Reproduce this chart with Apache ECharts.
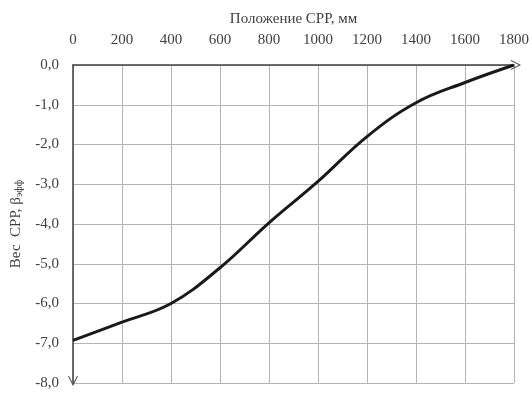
<!DOCTYPE html>
<html>
<head>
<meta charset="utf-8">
<script src="https://cdn.jsdelivr.net/npm/echarts@6/dist/echarts.min.js"></script>
<style>
  html, body { margin: 0; padding: 0; background: #fff; }
  #chart { width: 532px; height: 394px; }
</style>
</head>
<body>
<div id="chart"></div>
<script>
// Положение СРР, мм
const positions = [0, 200, 400, 600, 800, 1000, 1200, 1400, 1600, 1800]
// Вес СРР, β эфф
const weights = [-6.93, -6.47, -6.0, -5.1, -3.97, -2.93, -1.8, -0.95, -0.44, 0]

const chart = echarts.init(document.getElementById('chart'))

// открытая стрелка (галочка), остриё вверх
const openArrow = 'path://M0,10 L5,0 L10,10 L9,10 L5,2 L1,10 Z'
const font = 'Liberation Serif'

const option = {
  animation: false,
  grid: {
    left: 73,
    right: 17,
    top: 65,
    bottom: 11
  },
  xAxis: {
    type: 'value',
    position: 'top',
    min: 0,
    max: 1800,
    interval: 200,
    name: 'Положение СРР, мм',
    nameLocation: 'middle',
    nameGap: 38,
    nameTextStyle: { fontFamily: font, fontSize: 15, color: '#404040' },
    axisLine: {
      onZero: false,
      lineStyle: { color: '#404040', width: 1.5 },
      symbol: ['none', openArrow],
      symbolSize: [10, 12],
      symbolOffset: [0, 2]
    },
    axisTick: { show: false },
    axisLabel: {
      margin: 17,
      fontFamily: font,
      fontSize: 15,
      color: '#404040',
      formatter: v => String(v)
    },
    splitLine: { show: true, lineStyle: { color: '#b4b4b4', width: 1 } }
  },
  yAxis: {
    type: 'value',
    min: -8,
    max: 0,
    interval: 1,
    name: 'Вес  СРР, β{sub|эфф}',
    nameLocation: 'middle',
    nameGap: 47,
    nameTextStyle: {
      fontFamily: font, fontSize: 15, color: '#404040',
      rich: {
        sub: { fontFamily: font, fontSize: 10, color: '#404040', verticalAlign: 'bottom', padding: [6, 0, 0, 0] }
      }
    },
    axisLine: {
      onZero: false,
      lineStyle: { color: '#404040', width: 1.5 },
      symbol: [openArrow, 'none'],
      symbolSize: [10, 12],
      symbolOffset: [2, 0]
    },
    axisTick: { show: false },
    axisLabel: {
      margin: 14,
      fontFamily: font,
      fontSize: 15,
      color: '#404040',
      formatter: v => v.toFixed(1).replace('.', ',')
    },
    splitLine: { show: true, lineStyle: { color: '#b4b4b4', width: 1 } }
  },
  series: [
    {
      type: 'line',
      data: positions.map((p, i) => [p, weights[i]]),
      smooth: 0.4,
      showSymbol: false,
      lineStyle: { color: '#1a1a1a', width: 3 }
    }
  ]
}

chart.setOption(option)
</script>
</body>
</html>
